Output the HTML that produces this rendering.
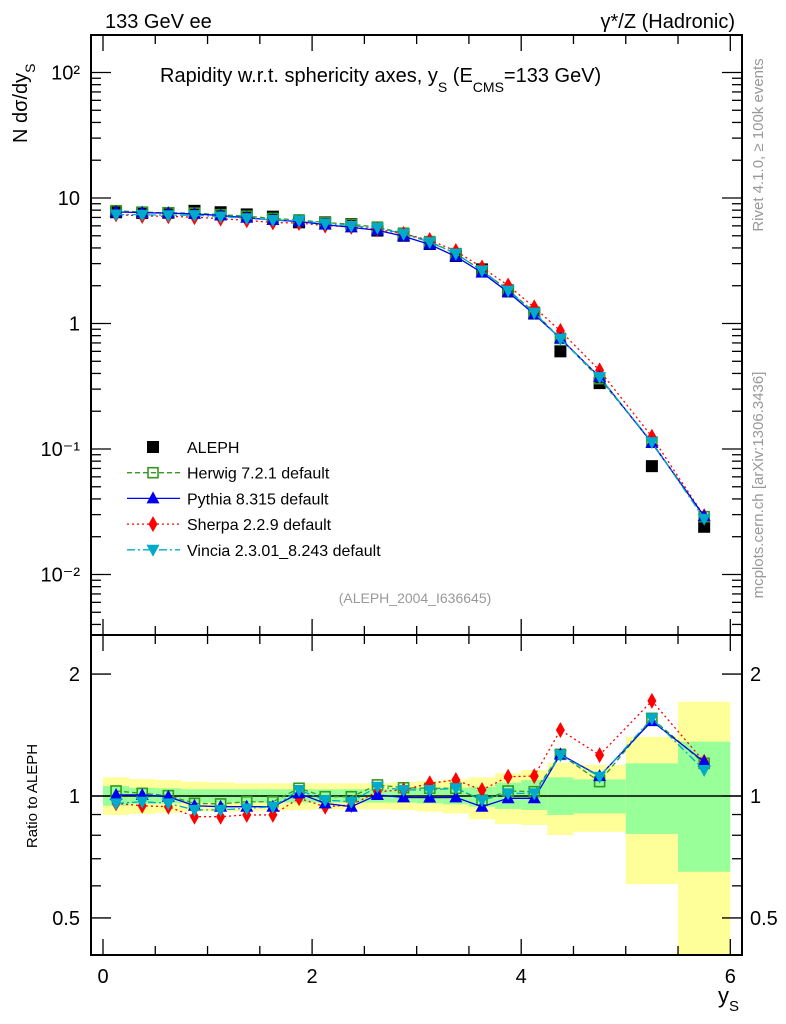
<!DOCTYPE html>
<html><head><meta charset="utf-8"><style>
body{margin:0;background:#fff}
svg{display:block;font-family:"Liberation Sans",sans-serif}
</style></head><body>
<svg id="chart" width="786" height="1024" viewBox="0 0 786 1024" xmlns="http://www.w3.org/2000/svg"></svg>
<script>
const xCenters=[0.125,0.375,0.625,0.875,1.125,1.375,1.625,1.875,2.125,2.375,2.625,2.875,3.125,3.375,3.625,3.875,4.125,4.375,4.75,5.25,5.75];
const xLo=[0,0.25,0.5,0.75,1,1.25,1.5,1.75,2,2.25,2.5,2.75,3,3.25,3.5,3.75,4,4.25,4.5,5,5.5];
const xHi=[0.25,0.5,0.75,1,1.25,1.5,1.75,2,2.25,2.5,2.75,3,3.25,3.5,3.75,4,4.25,4.5,5,5.5,6];
const aleph=[7.7,7.6,7.6,7.9,7.7,7.4,7.1,6.4,6.4,6.2,5.5,5.0,4.3,3.45,2.7,1.8,1.2,0.6,0.335,0.073,0.024];
const herwigRatio=[1.029,1.015,1.002,0.959,0.956,0.968,0.968,1.045,0.996,0.996,1.065,1.048,1.045,1.045,0.977,1.029,1.025,1.267,1.085,1.555,1.204];
const pythiaRatio=[1.006,1.006,0.996,0.946,0.941,0.941,0.941,1.015,0.959,0.941,1.006,0.992,0.991,0.992,0.941,0.987,0.987,1.267,1.12,1.531,1.215];
const sherpaRatio=[0.959,0.946,0.941,0.889,0.889,0.898,0.898,0.987,0.941,0.95,1.025,1.035,1.075,1.095,1.035,1.116,1.12,1.455,1.262,1.717,1.215];
const vinciaRatio=[0.959,0.968,0.959,0.924,0.924,0.932,0.941,1.035,0.977,0.968,1.054,1.035,1.035,1.045,0.977,1.015,1.015,1.262,1.116,1.555,1.159];
const yellowHi=[1.112,1.101,1.095,1.085,1.081,1.075,1.075,1.075,1.075,1.075,1.075,1.081,1.089,1.099,1.112,1.138,1.159,1.209,1.193,1.401,1.709];
const yellowLo=[0.898,0.903,0.910,0.915,0.915,0.918,0.920,0.924,0.927,0.927,0.927,0.924,0.915,0.906,0.876,0.853,0.848,0.801,0.816,0.606,0.30];
const greenHi=[1.058,1.048,1.045,1.039,1.039,1.039,1.039,1.039,1.039,1.039,1.039,1.045,1.045,1.048,1.054,1.079,1.095,1.112,1.099,1.204,1.362];
const greenLo=[0.946,0.956,0.959,0.963,0.963,0.963,0.963,0.963,0.963,0.963,0.963,0.963,0.959,0.954,0.941,0.929,0.924,0.898,0.906,0.806,0.650];
const xTicks=[0,2,4,6];
const yMainTicks=[100,10,1,0.1,0.01];
const yMainLabels=["10²","10","1","10⁻¹","10⁻²"];
const yRatioTicks=[2,1,0.5];

const NS="http://www.w3.org/2000/svg";
const svg=document.getElementById('chart');
const L=91,R=742,T=35,M=635,B=955;
const X=v=>103+v*104.55;
const Ym=v=>198-(Math.log10(v)-1)*125.5;
const Yr=v=>796-Math.log10(v)*405;
function mk(tag,attrs,parent){const e=document.createElementNS(NS,tag);for(const k in attrs)e.setAttribute(k,attrs[k]);(parent||svg).appendChild(e);return e;}
function txt(s,x,y,size,anchor,fill,parent){const t=mk('text',{x:x,y:y,'font-size':size,'text-anchor':anchor||'start',fill:fill||'#000'},parent);t.textContent=s;return t;}

const bands=mk('g',{});


for(let i=0;i<xLo.length;i++){
  const yh=Math.max(Yr(yellowHi[i]),M), yl=Math.min(Yr(yellowLo[i]),B);
  const r1=mk('rect',{x:X(xLo[i]),y:yh,width:X(xHi[i])-X(xLo[i]),height:yl-yh,fill:'#ffff99'},bands);
  
  
  const gh=Yr(greenHi[i]), gl=Yr(greenLo[i]);
  const r2=mk('rect',{x:X(xLo[i]),y:gh,width:X(xHi[i])-X(xLo[i]),height:gl-gh,fill:'#99ff99'},bands);
  
  
}
mk('line',{x1:L,x2:R,y1:Yr(1),y2:Yr(1),stroke:'#000','stroke-width':1.5});

const fr=mk('g',{fill:'none',stroke:'#000','stroke-width':2});


mk('rect',{x:L,y:T,width:R-L,height:M-T},fr);
mk('rect',{x:L,y:M,width:R-L,height:B-M},fr);

const tk=mk('g',{stroke:'#000','stroke-width':1.3});
for(let v=0;v<=6.001;v+=0.5){
  const big=Math.abs(v%2)<0.01;const len=big?16:9;
  [[T,1],[M,-1],[M,1],[B,-1]].forEach(([y0,d])=>mk('line',{x1:X(v),x2:X(v),y1:y0,y2:y0+d*len},tk));
}
for(let e=-3;e<=2;e++){for(let m=1;m<10;m++){const v=m*Math.pow(10,e);const y=Ym(v);if(y<T||y>M)continue;const len=m==1?20:10;
  mk('line',{x1:L,x2:L+len,y1:y,y2:y},tk);mk('line',{x1:R,x2:R-len,y1:y,y2:y},tk);}}
[0.4,0.5,0.6,0.7,0.8,0.9,1,2].forEach(v=>{const y=Yr(v);if(y<M||y>B)return;const len=(v==1||v==2||v==0.5)?20:10;
  mk('line',{x1:L,x2:L+len,y1:y,y2:y},tk);mk('line',{x1:R,x2:R-len,y1:y,y2:y},tk);});

xTicks.forEach(v=>{const t=txt(String(v),X(v),983,20,'middle');});
yMainTicks.forEach((v,i)=>{const t=txt(yMainLabels[i],80,Ym(v)+7,20,'end');});
yRatioTicks.forEach(v=>{const t=txt(String(v),80,Yr(v)+7,20,'end');
  const t2=txt(String(v),750,Yr(v)+7,20,'start');});

function series(vals,color,dash,marker,name,ratio){
  const g=mk('g',{});
  
  
  const Y=ratio?Yr:Ym;
  if(dash!==null){
    const pts=xCenters.map((x,i)=>X(x)+','+Y(vals[i])).join(' ');
    mk('polyline',{points:pts,fill:'none',stroke:color,'stroke-width':1.3,'stroke-dasharray':dash},g);
  }
  xCenters.forEach((x,i)=>{const cx=X(x),cy=Y(vals[i]);
    if(cy<M&&ratio) return;
    drawMarker(marker,cx,cy,color,g);});
}
function drawMarker(marker,cx,cy,color,g){
  if(marker=='sq')mk('rect',{x:cx-6,y:cy-6,width:12,height:12,fill:color},g);
  else if(marker=='osq')mk('rect',{x:cx-5,y:cy-5,width:10,height:10,fill:'none',stroke:color,'stroke-width':1.6},g);
  else if(marker=='tu')mk('polygon',{points:`${cx},${cy-7} ${cx-6.5},${cy+5} ${cx+6.5},${cy+5}`,fill:color},g);
  else if(marker=='td')mk('polygon',{points:`${cx},${cy+7} ${cx-6.5},${cy-5} ${cx+6.5},${cy-5}`,fill:color},g);
  else if(marker=='dm')mk('polygon',{points:`${cx},${cy-8} ${cx-4.5},${cy} ${cx},${cy+8} ${cx+4.5},${cy}`,fill:color},g);
}
const herwig=aleph.map((v,i)=>v*herwigRatio[i]);
const pythia=aleph.map((v,i)=>v*pythiaRatio[i]);
const sherpa=aleph.map((v,i)=>v*sherpaRatio[i]);
const vincia=aleph.map((v,i)=>v*vinciaRatio[i]);
const HC='#339922',PC='#0000ee',SC='#ff0000',VC='#00aacc';
series(aleph,'#000',null,'sq','aleph-data',false);
series(herwig,HC,'5,3','osq','herwig-series',false);
series(sherpa,SC,'2,3','dm','sherpa-series',false);
series(pythia,PC,'','tu','pythia-series',false);
series(vincia,VC,'8,3,2,3','td','vincia-series',false);
series(herwigRatio,HC,'5,3','osq','herwig-ratio',true);
series(sherpaRatio,SC,'2,3','dm','sherpa-ratio',true);
series(pythiaRatio,PC,'','tu','pythia-ratio',true);
series(vinciaRatio,VC,'8,3,2,3','td','vincia-ratio',true);

const leg=[["ALEPH",'#000',null,'sq'],["Herwig 7.2.1 default",HC,'5,3','osq'],["Pythia 8.315 default",PC,'','tu'],["Sherpa 2.2.9 default",SC,'2,3','dm'],["Vincia 2.3.01_8.243 default",VC,'8,3,2,3','td']];
leg.forEach((e,i)=>{const y=447+i*25.7;const g=mk('g',{});
  
  
  if(e[2]!==null)mk('line',{x1:127,x2:180,y1:y,y2:y,stroke:e[1],'stroke-width':1.3,'stroke-dasharray':e[2]},g);
  drawMarker(e[3],153,y,e[1],g);
  txt(e[0],187,y+6,16,'start','#000',g);});

let t;
t=txt('133 GeV ee',105,28,20,'start');
t=txt('γ*/Z (Hadronic)',735,28,20,'end');
t=mk('text',{x:160,y:82,'font-size':20});t.innerHTML='Rapidity w.r.t. sphericity axes, y<tspan font-size="14" dy="10">S</tspan><tspan dy="-10"> (E</tspan><tspan font-size="14" dy="10">CMS</tspan><tspan dy="-10">=133 GeV)</tspan>';

t=txt('(ALEPH_2004_I636645)',415,603,14,'middle','#999');
t=mk('text',{x:0,y:0,'font-size':20,transform:'translate(27,143) rotate(-90)','text-anchor':'start'});t.innerHTML='N  dσ/dy<tspan font-size="14" dy="8">S</tspan>';

t=mk('text',{x:0,y:0,'font-size':15,transform:'translate(37,796) rotate(-90)','text-anchor':'middle'});t.textContent='Ratio to ALEPH';

t=mk('text',{x:718,y:1003,'font-size':22});t.innerHTML='y<tspan font-size="15" dy="8">S</tspan>';

t=mk('text',{x:0,y:0,'font-size':15,fill:'#999',transform:'translate(763,145) rotate(-90)','text-anchor':'middle'});t.textContent='Rivet 4.1.0, ≥ 100k events';

t=mk('text',{x:0,y:0,'font-size':15,fill:'#999',transform:'translate(763,485) rotate(-90)','text-anchor':'middle'});t.textContent='mcplots.cern.ch [arXiv:1306.3436]';

</script>
</body></html>
